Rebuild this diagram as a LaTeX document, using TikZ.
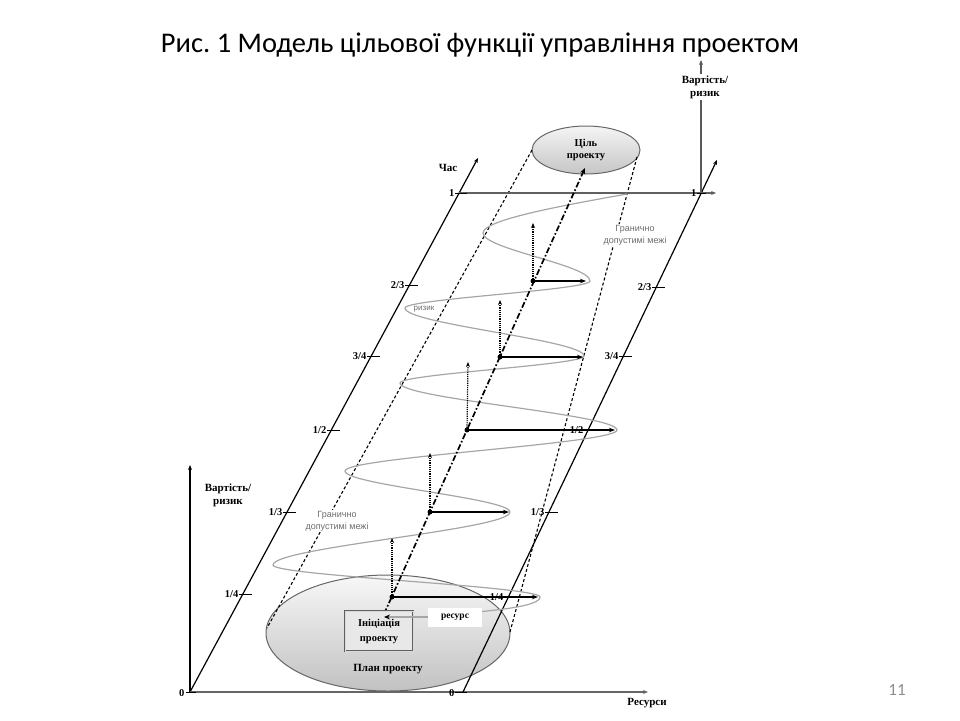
\documentclass[tikz,border=0pt]{standalone}
\usepackage{fontspec}
\setmainfont{Liberation Serif}
\newfontfamily\calib{Carlito}
\newfontfamily\lsans{Liberation Sans}
\usetikzlibrary{arrows.meta,calc,shapes.geometric}
\frenchspacing
\begin{document}
\begin{tikzpicture}[x=1pt,y=-1pt,
  lbl/.style={font=\fontsize{11}{13}\selectfont\bfseries, inner sep=0pt, align=center},
  ticklbl/.style={font=\fontsize{10.5}{12}\selectfont\bfseries, inner sep=0.5pt, anchor=east},
  tickmark/.style={line width=1pt},
  axis/.style={line width=1.2pt, -{Stealth[length=5pt,width=4pt]}},
  spiral/.style={gray!70, line width=1.2pt},
  bound/.style={dash pattern=on 3pt off 2.2pt, line width=1.1pt},
  centre/.style={dash pattern=on 6pt off 2.2pt on 1.6pt off 2.2pt, line width=1.7pt},
  harrow/.style={line width=1.6pt, -{Stealth[length=6pt,width=4.5pt]}},
  varrow/.style={densely dotted, line width=1.2pt, -{Stealth[length=5pt,width=4pt]}},
  dotmark/.style={circle, fill=black, inner sep=0pt, minimum size=5pt},
  note/.style={font=\lsans\fontsize{9}{12}\selectfont, text=gray!85!black, align=center, inner sep=1pt, fill=white}
]
\useasboundingbox (0,0) rectangle (960,720);

% title and page number
\node[font=\calib\fontsize{28.5}{32}\selectfont] (title) at (480,45) {Рис. 1 Модель цільової функції управління проектом};
\node[font=\calib\fontsize{17}{20}\selectfont, text=gray!90] (page) at (897,690) {11};

% plan ellipse (background)
\node[ellipse, draw=gray!80!black, line width=1pt, minimum width=244pt, minimum height=116pt,
      top color=gray!6, bottom color=gray!48, inner sep=0pt] (plan) at (388,633) {};
\node[lbl] (plantext) at (388,669) {План проекту};

% goal ellipse
\node[ellipse, draw=gray!80!black, line width=1pt, minimum width=108pt, minimum height=48pt,
      top color=gray!8, bottom color=gray!45, inner sep=0pt, align=center,
      font=\fontsize{10.5}{12.5}\selectfont\bfseries] (goal) at (586,150) {Ціль\\проекту};

% axis coordinates
\coordinate (O1) at (190,692);
\coordinate (T1) at (478,158);
\coordinate (V1) at (190,465);
\coordinate (Rx) at (648,692);
\coordinate (O2) at (463,692);
\coordinate (T2) at (717,160);
\coordinate (H1a) at (459,193);
\coordinate (H1b) at (716,193);
\coordinate (V2a) at (701,193);
\coordinate (V2b) at (701,60);

% boundary dashed lines
\coordinate (bl1) at (532,150);
\coordinate (bl2) at (267,628);
\coordinate (br1) at (637,157);
\coordinate (br2) at (510,632);
\draw[bound] (bl1) -- (bl2);
\draw[bound] (br1) -- (br2);

% axes
\draw[axis] (O1) -- (T1);
\draw[axis] (O1) -- (V1);
\draw[axis, gray!80!black] (O1) -- (Rx);
\draw[axis] (O2) -- (T2);
\draw[axis, gray!75!black, line width=1.1pt] (H1a) -- (H1b);
\draw[axis, gray!70!black, line width=1.1pt] (V2a) -- (V2b);

% axis labels
\node[lbl] (lblCas) at (448,168) {Час};
\node[lbl] (lblVL) at (228,495) {Вартість/\\ризик};
\node[lbl, fill=white, inner sep=2pt] (lblVR) at (705,87) {Вартість/\\ризик};
\node[lbl] (lblRes) at (647,703) {Ресурси};

% ticks on left time axis
\draw[tickmark] (455,193) -- (467,193); \node[ticklbl] (lt1) at (455,193) {1};
\draw[tickmark] (405,285) -- (418,285); \node[ticklbl] (lt2) at (405,285) {2/3};
\draw[tickmark] (367,356) -- (380,356); \node[ticklbl] (lt3) at (367,356) {3/4};
\draw[tickmark] (327,430) -- (340,430); \node[ticklbl] (lt4) at (327,430) {1/2};
\draw[tickmark] (283,512) -- (296,512); \node[ticklbl] (lt5) at (283,512) {1/3};
\draw[tickmark] (239,594) -- (252,594); \node[ticklbl] (lt6) at (239,594) {1/4};
\draw[tickmark] (186,692) -- (196,692); \node[ticklbl] (lt0) at (185,693) {0};

% ticks on right time axis
\draw[tickmark] (697,193) -- (706,193); \node[ticklbl] (rt1) at (697,193) {1};
\draw[tickmark] (652,287) -- (665,287); \node[ticklbl] (rt2) at (652,287) {2/3};
\draw[tickmark] (619,356) -- (632,356); \node[ticklbl] (rt3) at (619,356) {3/4};
\draw[tickmark] (584,430) -- (597,430); \node[ticklbl] (rt4) at (584,430) {1/2};
\draw[tickmark] (545,512) -- (558,512); \node[ticklbl] (rt5) at (545,512) {1/3};
\draw[tickmark] (504,597) -- (517,597); \node[ticklbl] (rt6) at (504,597) {1/4};
\draw[tickmark] (455,692) -- (467,692); \node[ticklbl] (rt0) at (455,693) {0};

% spiral
\draw[spiral]
  (430,615.5)
  .. controls (500,611) and (540,606) .. (540,597)
  .. controls (540,586.3) and (273,575.7) .. (273,565)
  .. controls (273,547.3) and (510,529.7) .. (510,512)
  .. controls (510,498.3) and (345,484.7) .. (345,471)
  .. controls (345,457.3) and (617,443.7) .. (617,430)
  .. controls (617,414.3) and (400,398.7) .. (400,383)
  .. controls (400,374) and (584,365) .. (584,356)
  .. controls (584,340) and (405,324) .. (405,308)
  .. controls (405,299) and (590,290) .. (590,281)
  .. controls (590,265) and (483,249) .. (483,233)
  .. controls (483,220) and (560,206) .. (627,194);

% central dash-dot line
\coordinate (c0) at (384,614);
\coordinate (c1) at (585,168);
\draw[centre, -{Stealth[length=6pt,width=5pt]}] (c0) -- (c1);

% dots, horizontal and vertical arrows
\node[dotmark] (d1) at (392,597) {};
\node[dotmark] (d2) at (430,512) {};
\node[dotmark] (d3) at (467,430) {};
\node[dotmark] (d4) at (500,357) {};
\node[dotmark] (d5) at (533,281) {};
\coordinate (h1) at (538,597);
\coordinate (h2) at (509,512);
\coordinate (h3) at (615,430);
\coordinate (h4) at (583,357);
\coordinate (h5) at (586,281);
\coordinate (v1) at (392,538);
\coordinate (v2) at (430,453);
\coordinate (v3) at (468,362);
\coordinate (v4) at (500,300);
\coordinate (v5) at (533,223);
\foreach \i in {1,...,5}{
  \draw[harrow] (d\i.center) -- (h\i);
  \draw[varrow] (d\i.center) -- (v\i);
}

% boxes
\node[draw=gray!75!black, double=gray!30, double distance=0.8pt, line width=0.6pt, fill=gray!18,
      minimum width=68pt, minimum height=40pt, align=center, inner sep=0pt,
      font=\fontsize{10.5}{15}\selectfont\bfseries] (init) at (379,631) {Ініціація\\проекту};
\node[fill=white, minimum width=54pt, minimum height=19pt, inner sep=0pt,
      font=\fontsize{9.5}{11}\selectfont\bfseries] (res) at (455,617) {ресурс};
\draw[-{Stealth[length=6pt,width=5pt,color=black]}, gray!70, line width=1.2pt] (res.west) -- (c0 |- res.west);

% notes
\node[note] (gr1) at (635,235) {Гранично\\допустимі межі};
\node[note] (gr2) at (337,521) {Гранично\\допустимі межі};
\node[font=\lsans\fontsize{8}{10}\selectfont, text=gray!85!black, inner sep=0pt] (riz) at (424,309) {ризик};
\end{tikzpicture}
\end{document}
